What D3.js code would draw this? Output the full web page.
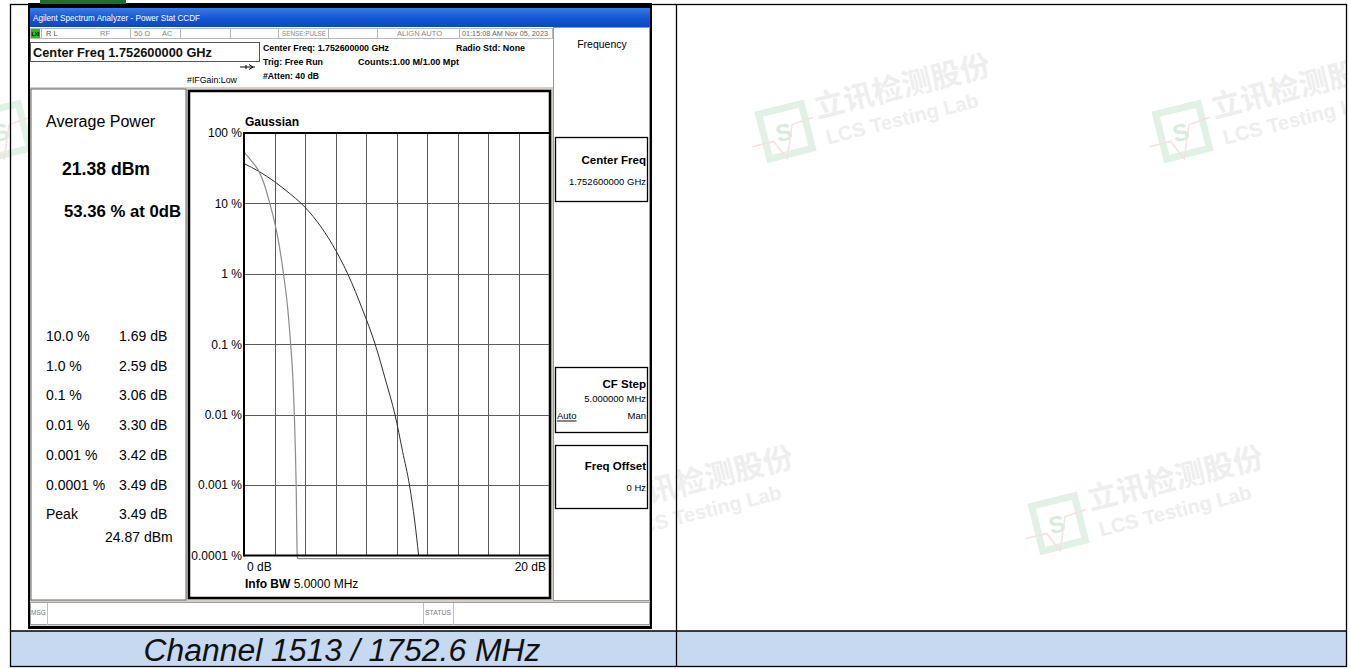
<!DOCTYPE html>
<html>
<head>
<meta charset="utf-8">
<script src="https://cdn.jsdelivr.net/npm/d3@7"></script>
<style>
  body { margin: 0; background: #fff; }
  svg { display: block; font-family: Arial, "Liberation Sans", sans-serif; }
</style>
</head>
<body>
<svg id="chart" width="1350" height="669"></svg>
<script>
// ---- data ----
var yTicks = [100, 10, 1, 0.1, 0.01, 0.001, 0.0001]
var yTickLabels = ['100 %', '10 %', '1 %', '0.1 %', '0.01 %', '0.001 %', '0.0001 %']
var xDomain = [0, 20]
var xGrid = [2, 4, 6, 8, 10, 12, 14, 16, 18]
var xTickLabels = ['0 dB', '20 dB']

// gaussian reference trace (dB above average, % probability)
var gaussDb  = [0, 1, 2, 3, 3.75, 4.8, 5.8, 6.8, 7.8, 8.6, 9.3, 9.9, 10.4, 10.85, 11.2, 11.45]
var gaussPct = [36.8, 28.3, 20.4, 13.8, 10, 5.5, 2.6, 1.0, 0.3, 0.1, 0.03, 0.01, 0.003, 0.001, 0.0003, 0.0001]

// measured trace, drops to the floor below 0.0001 %
var measDb  = [0, 0.5, 1.0, 1.3, 1.69, 2.0, 2.3, 2.59, 2.85, 3.06, 3.2, 3.30, 3.42, 3.49, 3.52, 20]
var measPct = [53.36, 40, 28, 19.5, 10, 5.5, 2.6, 1.0, 0.35, 0.1, 0.035, 0.01, 0.001, 0.0001, 0.00009, 0.00009]

// stats panel
var statProb = ['10.0 %', '1.0 %', '0.1 %', '0.01 %', '0.001 %', '0.0001 %', 'Peak']
var statDb   = ['1.69 dB', '2.59 dB', '3.06 dB', '3.30 dB', '3.42 dB', '3.49 dB', '3.49 dB']
var peakDbm = '24.87 dBm'
var avgPower = '21.38 dBm'
var avgProb = '53.36 % at 0dB'

var caption = 'Channel 1513 / 1752.6 MHz'

var svg = d3.select('#chart')

function txt(g, x, y, s, size, opts) {
  opts = opts || {}
  var t = g.append('text')
    .attr('x', x).attr('y', y)
    .attr('font-size', size)
    .attr('fill', opts.fill || '#000')
    .attr('font-weight', opts.bold ? 'bold' : 'normal')
    .attr('text-anchor', opts.anchor || 'start')
    .attr('dominant-baseline', 'central')
    .text(s)
  if (opts.len) t.attr('textLength', opts.len).attr('lengthAdjust', 'spacingAndGlyphs')
  if (opts.italic) t.attr('font-style', 'italic')
  return t
}

// ---- watermarks (under the screenshot) ----
svg.append('clipPath').attr('id', 'page')
  .append('rect').attr('x', 0).attr('y', 0).attr('width', 1347).attr('height', 669)

var wmLayer = svg.append('g').attr('clip-path', 'url(#page)')
function watermark(tx, ty) {
  var g = wmLayer.append('g').attr('transform', 'translate(' + [tx, ty] + ') rotate(-14)')
  g.append('rect').attr('x', 2).attr('y', -26).attr('width', 44).attr('height', 46)
    .attr('fill', 'none').attr('stroke', '#e2f1e5').attr('stroke-width', 7)
  g.append('text').attr('x', 14).attr('y', 6).text('S')
    .attr('font-size', 24).attr('font-weight', 'bold').attr('fill', '#d9ecdd')
  g.append('path').attr('d', 'M-12,4 L10,4 L19,24 L32,-8 L54,-10')
    .attr('fill', 'none').attr('stroke', '#f8e0e0').attr('stroke-width', 1.5)
  g.append('text').attr('x', 58).attr('y', -8).text('立讯检测股份')
    .attr('font-size', 30).attr('font-weight', 'bold')
    .attr('font-family', '"Noto Sans CJK SC", sans-serif').attr('fill', '#eeeeee')
  g.append('text').attr('x', 62).attr('y', 20).text('LCS Testing Lab')
    .attr('font-size', 20).attr('font-weight', 'bold').attr('fill', '#eeeeee')
}
watermark(-20, 140)
watermark(763, 140)
watermark(1160, 140)
watermark(566, 532)
watermark(1036, 532)

// ---- document table ----
svg.append('rect').attr('x', 10).attr('y', 631).attr('width', 1337).attr('height', 36).attr('fill', '#c6d9f1')
var tbl = svg.append('g').attr('stroke', '#000').attr('stroke-width', 1.3).attr('fill', 'none')
tbl.append('rect').attr('x', 10.5).attr('y', 4.5).attr('width', 1336).attr('height', 662)
tbl.append('line').attr('x1', 676.5).attr('x2', 676.5).attr('y1', 4).attr('y2', 667)
tbl.append('line').attr('x1', 10).attr('x2', 1347).attr('y1', 631).attr('y2', 631)
txt(svg, 342, 650, caption, 31, { anchor: 'middle', italic: true, fill: '#111', len: 397 })

// ---- analyzer screenshot ----
var scr = svg.append('g')
scr.append('rect').attr('x', 28).attr('y', 3).attr('width', 624).attr('height', 626).attr('fill', '#000')
scr.append('rect').attr('x', 40).attr('y', 0).attr('width', 86).attr('height', 4).attr('fill', '#1e6b2c')
scr.append('rect').attr('x', 30).attr('y', 8).attr('width', 620).attr('height', 618).attr('fill', '#d4d0c8')

// title bar
var grad = svg.append('defs').append('linearGradient').attr('id', 'tb').attr('x1', 0).attr('x2', 0).attr('y1', 0).attr('y2', 1)
grad.append('stop').attr('offset', 0).attr('stop-color', '#3a7bea')
grad.append('stop').attr('offset', 0.5).attr('stop-color', '#1559d4')
grad.append('stop').attr('offset', 1).attr('stop-color', '#0c48bd')
scr.append('rect').attr('x', 30).attr('y', 8).attr('width', 620).attr('height', 19).attr('fill', 'url(#tb)')
txt(scr, 33, 17.5, 'Agilent Spectrum Analyzer - Power Stat CCDF', 9, { fill: '#fff', len: 167 })

// header
scr.append('rect').attr('x', 30).attr('y', 27).attr('width', 523).attr('height', 60).attr('fill', '#fff')
var cells = [30, 41, 130, 180, 230, 278, 328, 377, 459, 553]
scr.append('rect').attr('x', 30.5).attr('y', 28.5).attr('width', 522).attr('height', 10)
  .attr('fill', 'none').attr('stroke', '#b8b8b8')
cells.forEach(function (cx) {
  scr.append('line').attr('x1', cx + 0.5).attr('x2', cx + 0.5).attr('y1', 28).attr('y2', 39).attr('stroke', '#b8b8b8')
})
scr.append('rect').attr('x', 31).attr('y', 29).attr('width', 9).attr('height', 9).attr('fill', '#1fbf1f')
txt(scr, 31.5, 33.5, 'LXI', 6, { bold: true, fill: '#000', len: 8 })
txt(scr, 46, 33.5, 'R L', 7.5, { fill: '#555' })
txt(scr, 100, 33.5, 'RF', 7.5, { fill: '#888' })
txt(scr, 134, 33.5, '50 Ω', 7.5, { fill: '#888' })
txt(scr, 162, 33.5, 'AC', 7.5, { fill: '#888' })
txt(scr, 282, 33.5, 'SENSE:PULSE', 7, { fill: '#888', len: 44 })
txt(scr, 397, 33.5, 'ALIGN AUTO', 7, { fill: '#888', len: 45 })
txt(scr, 462, 33.5, '01:15:08 AM Nov 05, 2023', 7, { fill: '#666', len: 86 })

scr.append('rect').attr('x', 30.5).attr('y', 42.5).attr('width', 229).attr('height', 19)
  .attr('fill', '#fff').attr('stroke', '#555')
txt(scr, 33, 52, 'Center Freq 1.752600000 GHz', 13, { bold: true, fill: '#111', len: 179 })
txt(scr, 263, 48, 'Center Freq: 1.752600000 GHz', 9, { bold: true, len: 126 })
txt(scr, 456, 48, 'Radio Std: None', 9, { bold: true, len: 69 })
txt(scr, 263, 62, 'Trig: Free Run', 9, { bold: true, len: 60 })
txt(scr, 358, 62, 'Counts:1.00 M/1.00 Mpt', 9, { bold: true, len: 101 })
txt(scr, 263, 76, '#Atten: 40 dB', 9, { bold: true, len: 56 })
txt(scr, 187, 80, '#IFGain:Low', 8.5, { len: 50 })
scr.append('path').attr('d', 'M240,67 L255,67 M249,64.5 L253,67 L249,69.5 M246,65 L246,69')
  .attr('stroke', '#000').attr('fill', 'none')

// left stats panel
scr.append('rect').attr('x', 31).attr('y', 89).attr('width', 155).attr('height', 511)
  .attr('fill', '#fff').attr('stroke', '#666')
txt(scr, 46, 121, 'Average Power', 16)
txt(scr, 62, 169, avgPower, 18, { bold: true, len: 88 })
txt(scr, 64, 211, avgProb, 17, { bold: true, len: 117 })
statProb.forEach(function (p, i) {
  txt(scr, 46, 336 + i * 29.7, p, 14)
  txt(scr, 119, 336 + i * 29.7, statDb[i], 14)
})
txt(scr, 105, 537, peakDbm, 14)

// softkey column
scr.append('rect').attr('x', 553.5).attr('y', 27.5).attr('width', 96).attr('height', 573)
  .attr('fill', '#fff').attr('stroke', '#999')
txt(scr, 602, 44, 'Frequency', 10.5, { anchor: 'middle' })
var keys = [
  { y: 137, h: 64, title: 'Center Freq', sub: '1.752600000 GHz', ty: 23, sy: 44 },
  { y: 367, h: 65, title: 'CF Step', sub: '5.000000 MHz', ty: 17, sy: 31 },
  { y: 445, h: 63, title: 'Freq Offset', sub: '0 Hz', ty: 21, sy: 42 }
]
keys.forEach(function (k) {
  scr.append('rect').attr('x', 555.5).attr('y', k.y + 0.5).attr('width', 92).attr('height', k.h)
    .attr('fill', '#fff').attr('stroke', '#000').attr('stroke-width', 1.3)
  txt(scr, 646, k.y + k.ty, k.title, 11.5, { bold: true, anchor: 'end' })
  txt(scr, 646, k.y + k.sy, k.sub, 9.5, { anchor: 'end' })
})
txt(scr, 557, 415, 'Auto', 9.5).attr('text-decoration', 'underline')
txt(scr, 646, 415, 'Man', 9.5, { anchor: 'end' })

// bottom message bar
scr.append('rect').attr('x', 30.5).attr('y', 602.5).attr('width', 619).attr('height', 22)
  .attr('fill', '#fff').attr('stroke', '#a0a0a0')
;[47, 423, 453].forEach(function (bx) {
  scr.append('line').attr('x1', bx + 0.5).attr('x2', bx + 0.5).attr('y1', 603).attr('y2', 625).attr('stroke', '#c0c0c0')
})
txt(scr, 31, 612, 'MSG', 6.5, { fill: '#777' })
txt(scr, 425, 612, 'STATUS', 6.5, { fill: '#777', len: 26 })

// ---- CCDF graph ----
scr.append('rect').attr('x', 189).attr('y', 91).attr('width', 361).attr('height', 507)
  .attr('fill', '#fff').attr('stroke', '#000').attr('stroke-width', 2.5)

var plot = { left: 244, right: 549, top: 133, bottom: 555.5 }
var x = d3.scaleLinear().domain(xDomain).range([plot.left, plot.right])
var y = d3.scaleLog().domain([0.0001, 100]).range([plot.bottom, plot.top])

var grid = scr.append('g').attr('stroke', '#5a5a5a').attr('stroke-width', 1)
grid.selectAll('line.v').data(xGrid).enter().append('line')
  .attr('x1', d => Math.round(x(d)) + 0.5).attr('x2', d => Math.round(x(d)) + 0.5)
  .attr('y1', plot.top).attr('y2', plot.bottom)
grid.selectAll('line.h').data(yTicks.slice(1, -1)).enter().append('line')
  .attr('x1', plot.left).attr('x2', plot.right)
  .attr('y1', d => Math.round(y(d)) + 0.5).attr('y2', d => Math.round(y(d)) + 0.5)

var yAxis = d3.axisLeft(y).tickValues(yTicks).tickSize(0).tickPadding(2)
  .tickFormat((d, i) => yTickLabels[i])
var yg = scr.append('g').attr('transform', 'translate(' + [plot.left, 0] + ')').call(yAxis)
yg.select('.domain').remove()
yg.selectAll('text').attr('font-size', 12).attr('font-family', 'Arial, "Liberation Sans", sans-serif').attr('fill', '#000')

var line = d3.line().x(d => x(d[0])).y(d => y(d[1])).curve(d3.curveMonotoneX)
scr.append('path').attr('d', line(d3.zip(gaussDb, gaussPct)))
  .attr('fill', 'none').attr('stroke', '#2e2e2e').attr('stroke-width', 1)
scr.append('path').attr('d', line(d3.zip(measDb, measPct)))
  .attr('fill', 'none').attr('stroke', '#8c8c8c').attr('stroke-width', 1.2)

// plot frame
var frame = scr.append('g').attr('stroke', '#000').attr('stroke-width', 2)
frame.append('line').attr('x1', plot.left).attr('x2', plot.right).attr('y1', plot.top).attr('y2', plot.top)
frame.append('line').attr('x1', plot.left).attr('x2', plot.left).attr('y1', plot.top - 1).attr('y2', plot.bottom + 1)
frame.append('line').attr('x1', plot.left).attr('x2', plot.right).attr('y1', plot.bottom).attr('y2', plot.bottom)

txt(scr, 245, 122, 'Gaussian', 12, { bold: true })
txt(scr, x(xDomain[0]) + 3, 567, xTickLabels[0], 12)
txt(scr, x(xDomain[1]) - 3, 567, xTickLabels[1], 12, { anchor: 'end' })
var info = txt(scr, 245, 584, '', 12)
info.append('tspan').attr('font-weight', 'bold').text('Info BW ')
info.append('tspan').text('5.0000 MHz')
</script>
</body>
</html>
